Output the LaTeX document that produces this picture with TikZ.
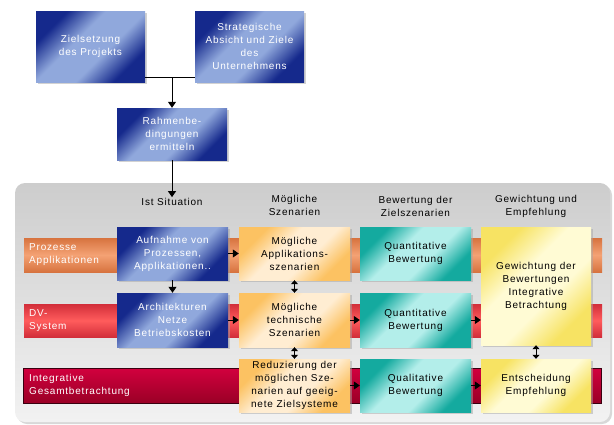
\documentclass[tikz,border=0pt]{standalone}
\usepackage{fontspec}
\setmainfont{Liberation Sans}[LetterSpace=8]
\usetikzlibrary{arrows.meta,shadows}
\definecolor{bluedark}{HTML}{15298C}
\definecolor{bluelight}{HTML}{90A8DC}
\definecolor{peachdark}{HTML}{FCC262}
\definecolor{peachlight}{HTML}{FFEDD2}
\definecolor{tealdark}{HTML}{14AA9F}
\definecolor{teallight}{HTML}{B3EEEA}
\definecolor{yeldark}{HTML}{F7E363}
\definecolor{yellight}{HTML}{FFFBD4}
\definecolor{orA}{HTML}{D7733F}
\definecolor{orB}{HTML}{F4A274}
\definecolor{rdA}{HTML}{D22E3A}
\definecolor{rdB}{HTML}{FF5C5C}
\definecolor{crA}{HTML}{D2003E}
\definecolor{crB}{HTML}{9A0026}
\definecolor{crEdge}{HTML}{3A0010}
\definecolor{panelA}{HTML}{CDCDCD}
\definecolor{panelB}{HTML}{F2F2F2}
\pgfdeclareverticalshading{blueshade}{100bp}{color(0bp)=(bluedark); color(27bp)=(bluedark); color(42bp)=(bluelight); color(58bp)=(bluelight); color(73bp)=(bluedark); color(100bp)=(bluedark)}
\pgfdeclareverticalshading{peachshade}{100bp}{color(0bp)=(peachdark); color(27bp)=(peachdark); color(42bp)=(peachlight); color(58bp)=(peachlight); color(73bp)=(peachdark); color(100bp)=(peachdark)}
\pgfdeclareverticalshading{tealshade}{100bp}{color(0bp)=(tealdark); color(27bp)=(tealdark); color(42bp)=(teallight); color(58bp)=(teallight); color(73bp)=(tealdark); color(100bp)=(tealdark)}
\pgfdeclareverticalshading{yelshade}{100bp}{color(0bp)=(yeldark); color(27bp)=(yeldark); color(42bp)=(yellight); color(58bp)=(yellight); color(73bp)=(yeldark); color(100bp)=(yeldark)}
\tikzset{
  txt/.style={font=\fontsize{10}{13}\selectfont, align=center, inner sep=1pt},
  box/.style={txt, minimum width=111pt, minimum height=53pt, inner sep=2pt,
    drop shadow={shadow xshift=2pt, shadow yshift=-2pt, fill=black!35}},
  bluebox/.style={box, text=white, shading=blueshade, shading angle=45},
  peachbox/.style={box, shading=peachshade, shading angle=45},
  tealbox/.style={box, shading=tealshade, shading angle=45},
  yelbox/.style={box, shading=yelshade, shading angle=45},
  band/.style={minimum width=578pt, inner sep=0pt},
  bandtxt/.style={txt, text=white, align=left, anchor=west},
  arr/.style={line width=1pt, -{Triangle[width=8pt,length=6pt]}},
  darr/.style={line width=1pt, {Triangle[width=7pt,length=4pt]}-{Triangle[width=7pt,length=4pt]}},
  plain/.style={line width=1pt}
}
\begin{document}
\begin{tikzpicture}[x=1pt,y=-1pt]
\useasboundingbox (0,0) rectangle (614,424);
% top part
\node[bluebox, minimum width=109pt, minimum height=71pt] (ziel) at (90.5,46.5) {Zielsetzung\\des Projekts};
\node[bluebox, minimum width=109pt, minimum height=71pt] (strat) at (249.5,46.5) {Strategische\\Absicht und Ziele\\des\\Unternehmens};
\node[bluebox, minimum width=110pt, minimum height=52pt] (rahmen) at (172,134) {Rahmenbe-\\dingungen\\ermitteln};
\coordinate (j) at (172,77);
\draw[plain] (ziel.east |- j) -- (strat.west |- j);
\draw[arr] (j) -- (rahmen.north);
% panel
\node[rounded corners=10pt, minimum width=595pt, minimum height=239pt, inner sep=0pt,
  shading=axis, top color=panelA, bottom color=panelB,
  drop shadow={shadow xshift=2pt, shadow yshift=-2pt, fill=black!30}] (panel) at (312.5,302.5) {};
% headers
\node[txt] (ist) at (172,202) {Ist Situation};
\node[txt] (szen) at (294.5,205) {Mögliche\\Szenarien};
\node[txt] (bew) at (415.5,206) {Bewertung der\\Zielszenarien};
\node[txt] (gew) at (536,206) {Gewichtung und\\Empfehlung};
\draw[arr] (rahmen.south) -- (ist.north);
% bands
\node[band, minimum height=34pt, shading=axis, top color=orA, bottom color=orA, middle color=orB] (b1) at (313,255) {};
\node[band, minimum height=33pt, shading=axis, top color=rdA, bottom color=rdA, middle color=rdB] (b2) at (313,320.5) {};
\node[band, minimum width=578pt, minimum height=35pt, draw=crEdge, line width=1pt, shading=axis, top color=crA, bottom color=crB] (b3) at (312.5,385.5) {};
\node[bandtxt] (t1) at (28,255) {Prozesse\\Applikationen};
\node[bandtxt] (t2) at (28,320.5) {DV-\\System};
\node[bandtxt] (t3) at (28,385.5) {Integrative\\Gesamtbetrachtung};
% boxes
\node[bluebox] (auf) at (172.5,253.5) {Aufnahme von\\Prozessen,\\Applikationen..};
\node[bluebox, minimum height=54pt] (arch) at (172.5,320) {Architekturen\\Netze\\Betriebskosten};
\node[peachbox] (appl) at (294.5,253.5) {Mögliche\\Applikations-\\szenarien};
\node[peachbox, minimum height=54pt] (tech) at (294.5,320) {Mögliche\\technische\\Szenarien};
\node[peachbox] (red) at (294.5,385.5) {Reduzierung der\\möglichen Sze-\\narien auf geeig-\\nete Zielsysteme};
\node[tealbox] (quant1) at (415.5,253.5) {Quantitative\\Bewertung};
\node[tealbox, minimum height=54pt] (quant2) at (415.5,320) {Quantitative\\Bewertung};
\node[tealbox] (qual) at (415.5,385.5) {Qualitative\\Bewertung};
\node[yelbox, minimum width=110pt, minimum height=118pt] (gewb) at (536,286) {Gewichtung der\\Bewertungen\\Integrative\\Betrachtung};
\node[yelbox, minimum width=110pt] (ent) at (536,385.5) {Entscheidung\\Empfehlung};
% arrows
\draw[arr] (auf) -- (appl);
\draw[arr] (auf) -- (arch);
\draw[arr] (arch) -- (tech);
\draw[darr] (appl) -- (tech);
\draw[darr] (tech) -- (red);
\draw[arr] (tech) -- (quant2);
\draw[arr] (red) -- (qual);
\draw[arr] (quant2.east) -- (quant2.east -| gewb.west);
\draw[arr] (qual) -- (ent);
\draw[darr] (gewb) -- (ent);
\end{tikzpicture}
\end{document}
